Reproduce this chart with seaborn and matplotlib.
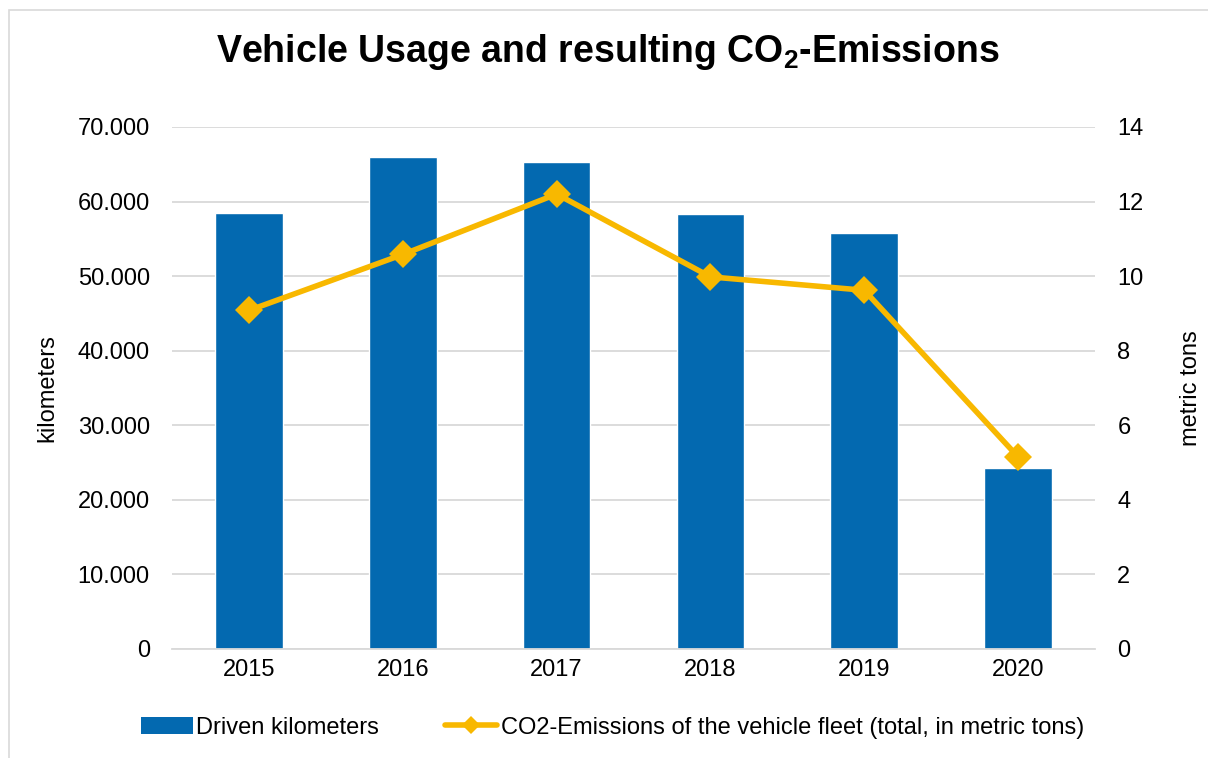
import matplotlib
matplotlib.use("Agg")
import matplotlib.pyplot as plt
import seaborn as sns
import pandas as pd
import numpy as np
from matplotlib.ticker import FuncFormatter, MultipleLocator
from matplotlib.lines import Line2D
from matplotlib.patches import Patch, Rectangle

years = ["2015", "2016", "2017", "2018", "2019", "2020"]
kilometers = [58450, 65950, 65300, 58300, 55800, 24250]
co2_tons = [9.08, 10.58, 12.2, 9.98, 9.62, 5.15]

bar_label = "Driven kilometers"
line_label = "CO2-Emissions of the vehicle fleet (total, in metric tons)"

sns.set_theme(style="white")
plt.rcParams["font.family"] = ["Liberation Sans", "DejaVu Sans"]
plt.rcParams["text.color"] = "black"
plt.rcParams["axes.labelcolor"] = "black"
plt.rcParams["xtick.color"] = "black"
plt.rcParams["ytick.color"] = "black"
plt.rcParams["mathtext.fontset"] = "custom"
plt.rcParams["mathtext.bf"] = "Liberation Sans:bold"
plt.rcParams["mathtext.rm"] = "Liberation Sans"

BLUE = "#0369B0"
GOLD = "#F8B800"
GRID = "#D9D9D9"
FS = 17

fig = plt.figure(figsize=(12.08, 7.58), dpi=100)
ax = fig.add_axes([0.1424, 0.1438, 0.7641, 0.6887])

df = pd.DataFrame({"year": years, "km": kilometers, "co2": co2_tons})
sns.barplot(data=df, x="year", y="km", color=BLUE, width=0.44, ax=ax,
            saturation=1, zorder=2)

ax.set_ylim(0, 70000)
ax.yaxis.set_major_locator(MultipleLocator(10000))
ax.yaxis.set_major_formatter(FuncFormatter(lambda v, p: f"{int(v):,}".replace(",", ".")))
ax.set_xlim(-0.5, len(years) - 0.5)
ax.grid(axis="y", color=GRID, linewidth=1.3, zorder=0)
ax.set_axisbelow(True)
for s in ["top", "right", "left"]:
    ax.spines[s].set_visible(False)
ax.spines["bottom"].set_color(GRID)
ax.spines["bottom"].set_linewidth(1.3)
ax.tick_params(axis="both", length=0, labelsize=FS, colors="black")
ax.tick_params(axis="x", pad=7)
ax.tick_params(axis="y", pad=16)
ax.set_xlabel("")
ax.set_ylabel("kilometers", fontsize=FS, labelpad=14, color="black")

ax2 = ax.twinx()
x_pos = np.arange(len(years))
sns.lineplot(x=x_pos, y=df["co2"].values, ax=ax2, color=GOLD, linewidth=4,
             marker="D", markersize=14, markeredgewidth=0, zorder=3)
ax2.set_ylim(0, 14)
ax2.yaxis.set_major_locator(MultipleLocator(2))
for s in ["top", "right", "left", "bottom"]:
    ax2.spines[s].set_visible(False)
ax2.tick_params(axis="y", length=0, labelsize=FS, colors="black", pad=16)
ax2.set_ylabel("metric tons", fontsize=FS, labelpad=26, color="black")
ax2.grid(False)
ax2.set_xlim(-0.5, len(years) - 0.5)

fig.text(0.503, 0.931, r"Vehicle Usage and resulting CO$_\mathbf{2}$-Emissions",
         ha="center", va="center", fontsize=27, fontweight="bold", color="black")

handles = [Patch(facecolor=BLUE, edgecolor="none", label=bar_label),
           Line2D([0], [0], color=GOLD, lw=4, marker="D", markersize=9,
                  markeredgewidth=0, label=line_label)]
fig.legend(handles=handles, loc="center", bbox_to_anchor=(0.507, 0.04), ncol=2,
           frameon=False, fontsize=FS, handlelength=2.2, columnspacing=2.8,
           handletextpad=0.15, labelcolor="black")

fig.patches.append(Rectangle((9 / 1208, -0.01), 1.0, 1 - 10 / 758 + 0.01,
                             transform=fig.transFigure, fill=False,
                             edgecolor="#D9D9D9", linewidth=1.2))

fig.savefig("out.png", dpi=100)
